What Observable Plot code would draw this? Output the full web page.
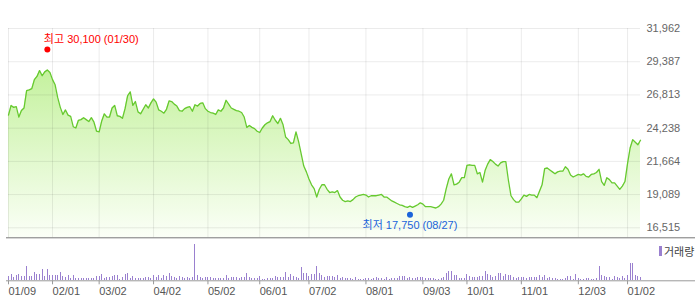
<!DOCTYPE html>
<html><head><meta charset="utf-8">
<script src="https://cdn.jsdelivr.net/npm/d3@7"></script>
<script src="https://cdn.jsdelivr.net/npm/@observablehq/plot@0.6"></script>
<style>
html,body{margin:0;padding:0;background:#fff;}
#chart{position:relative;width:695px;height:306px;overflow:hidden;font-family:"Liberation Sans","Noto Sans CJK KR",sans-serif;}
#chart svg{position:absolute;left:0;}
#legend{position:absolute;left:659px;top:244px;height:14px;font-size:11px;color:#444;display:flex;align-items:center;font-family:"Noto Sans CJK KR",sans-serif;}
#legend span{display:inline-block;width:3px;height:10px;background:#9a80cf;margin-right:2px;}
</style></head><body><div id="chart"><div id="legend"><span></span>거래량</div></div>
<script>
// daily closes, one per trading day (2018-01-09 .. 2019-01-09)
const closes = [
25250,26000,25850,25900,25100,25600,25800,27150,27200,27300,
28000,28250,28700,28300,28600,28750,28550,28000,27600,26600,
25850,25300,25650,25250,25150,24350,24250,24850,24900,25050,
24900,24750,25050,24700,24000,23950,24800,25350,25100,25100,
25800,26000,25200,25150,25000,25750,26750,27050,26000,26300,
25500,25350,25700,26050,25800,26200,26500,26250,25650,25550,
25400,25700,26350,26300,26100,25950,25600,25550,25750,25850,
25900,25550,26050,25950,26150,26200,25750,25550,25450,25400,
25300,25650,25550,25800,26400,26100,25800,25700,25600,25550,
25450,25100,24300,24450,24300,24200,24000,23900,24250,24500,
24650,24750,25200,24850,24600,25000,24500,23550,23350,23050,
23100,23950,23200,22250,21300,20850,20300,19850,19550,18900,
19500,19850,19850,19500,19250,19300,19250,19400,18900,18650,
18550,18600,18550,18700,18900,19000,19050,19100,19050,18900,
19000,19000,19000,19050,19100,18900,18900,18750,18600,18500,
18400,18300,18250,18150,18100,18200,18100,18200,18300,18450,
18350,18150,18150,18150,18100,18050,18150,18350,18650,19550,
20300,20700,19850,19900,20050,20400,20400,21350,21400,21350,
21350,20700,20800,20050,20950,21450,21800,21650,21450,21300,
21550,21650,21650,20200,19000,18700,18500,18500,18750,19050,
18950,19100,19050,19050,18850,19350,19850,21100,21150,21000,
20850,20700,20850,20900,20900,21250,21050,20600,20450,20550,
20650,20600,20700,20500,20450,20650,20700,20800,21050,20100,
19800,20400,20250,20000,20000,19750,19500,19750,20100,21500,
22700,23350,23150,22950,23300
];
// daily volume (relative units)
const volumes = [
12,18,10,16,18,14,12,42,12,12,
24,18,18,33,12,33,15,15,15,15,
24,12,10,15,8,15,6,6,6,6,
6,6,6,6,12,12,18,6,9,9,
12,15,15,3,9,18,21,6,12,6,
6,6,6,9,9,6,15,9,15,6,
15,12,21,12,9,6,12,9,6,9,
6,9,108,15,9,6,9,9,9,6,
6,6,6,6,15,6,9,9,9,6,
9,9,21,9,6,6,6,12,3,3,
6,6,6,12,9,9,9,24,9,18,
12,9,6,39,21,21,12,18,18,42,
21,15,9,12,12,12,9,15,6,9,
6,6,6,3,9,3,3,3,6,6,
3,6,9,6,6,3,9,3,6,6,
6,12,12,12,6,9,6,6,9,9,
9,6,6,6,6,3,3,6,9,21,
27,27,15,15,6,6,6,18,12,9,
9,9,12,12,27,18,15,9,12,21,
21,12,18,15,15,9,6,9,9,9,
6,9,9,9,9,15,9,15,6,9,
6,6,3,3,3,6,12,12,3,18,
6,3,3,6,6,3,3,6,42,15,
12,9,9,3,12,9,6,12,6,15,
51,51,15,12,9
];
// x ticks: trading-day index and label
const xTickIdx = [0,17,35,56,77,97,116,138,160,177,198,220,239];
const xTickLabels = ["01/09","02/01","03/02","04/02","05/02","06/01","07/02","08/01","09/03","10/01","11/01","12/03","01/02"];
// y ticks (price)
const yTicks = [16515,19089,21664,24238,26813,29387,31962];
const yDomain = [15740,31962];
// extremes
const highIdx = 15, highValue = 30100, highLabel = "최고 30,100 (01/30)";
const lowIdx = 155, lowValue = 17750, lowLabel = "최저 17,750 (08/27)";

const rows = closes.map((c,i)=>({i, close:c, volume:volumes[i]}));
const lastIdx = closes.length - 1;
const fmt = d3.format(",");
const FONT = '"Liberation Sans","Noto Sans CJK KR",sans-serif';

const gradient = (index, scales, values, dim) => {
  const defs = d3.create("svg:defs");
  const g = defs.append("linearGradient").attr("id","priceGrad")
    .attr("gradientUnits","userSpaceOnUse")
    .attr("x1",0).attr("x2",0)
    .attr("y1",dim.marginTop).attr("y2",dim.height - dim.marginBottom);
  g.append("stop").attr("offset","0%").attr("stop-color","#b7ee88");
  g.append("stop").attr("offset","100%").attr("stop-color","#fbfff7");
  return defs.node();
};

const price = Plot.plot({
  width: 695, height: 240,
  marginLeft: 8, marginRight: 55, marginTop: 28, marginBottom: 2.7,
  x: {domain: [0, lastIdx], axis: null, label: null},
  y: {domain: yDomain, axis: null, label: null},
  style: {fontFamily: FONT, fontSize: "11px", background: "none", overflow: "visible"},
  marks: [
    gradient,
    Plot.areaY(rows, {x: "i", y1: yDomain[0], y2: "close", fill: "url(#priceGrad)"}),
    Plot.ruleY(yTicks, {stroke: "#000", strokeOpacity: 0.08}),
    Plot.ruleX(xTickIdx, {stroke: "#000", strokeOpacity: 0.08}),
    Plot.lineY(rows, {x: "i", y: "close", stroke: "#66c92f", strokeWidth: 1.3}),
    Plot.text(yTicks, {x: lastIdx, y: d => d, text: d => fmt(d), textAnchor: "start", dx: 6, fill: "#666"}),
    Plot.ruleY([yDomain[0]], {stroke: "#777", insetLeft: -2, insetRight: -55}),
    Plot.dot([highIdx], {x: d => d, y: () => highValue, r: 3, fill: "#ff0000", stroke: null, dy: -3}),
    Plot.text([highIdx], {x: d => d, y: () => highValue, text: () => highLabel, fill: "#ff0000", textAnchor: "start", dx: -3.5, dy: -13}),
    Plot.dot([lowIdx], {x: d => d, y: () => lowValue, r: 3, fill: "#1b64da", stroke: null, dy: 3}),
    Plot.text([lowIdx], {x: d => d, y: () => lowValue, text: () => lowLabel, fill: "#1b64da", textAnchor: "middle", dy: 13.6})
  ]
});
price.style.top = "0px";

const vol = Plot.plot({
  width: 695, height: 68,
  marginLeft: 8, marginRight: 55, marginTop: 6, marginBottom: 25.7,
  x: {domain: [0, lastIdx], axis: null, label: null},
  y: {domain: [0, d3.max(volumes)], axis: null, label: null},
  style: {fontFamily: FONT, fontSize: "11px", background: "none", overflow: "visible"},
  marks: [
    Plot.ruleX(rows, {x: "i", y1: 0, y2: "volume", stroke: "#9a80cf", shapeRendering: "crispEdges"}),
    Plot.ruleY([0], {stroke: "#999", insetLeft: -2, insetRight: -55}),
    Plot.axisX(xTickIdx, {tickSize: 4, tickPadding: 2, stroke: "#999", color: "#555", fill: "#555", textAnchor: "start",
      label: null, tickFormat: d => xTickLabels[xTickIdx.indexOf(d)], fontSize: 11})
  ]
});
vol.style.top = "238px";

const chart = document.getElementById("chart");
chart.insertBefore(vol, chart.firstChild);
chart.insertBefore(price, chart.firstChild);
</script>
</body></html>
